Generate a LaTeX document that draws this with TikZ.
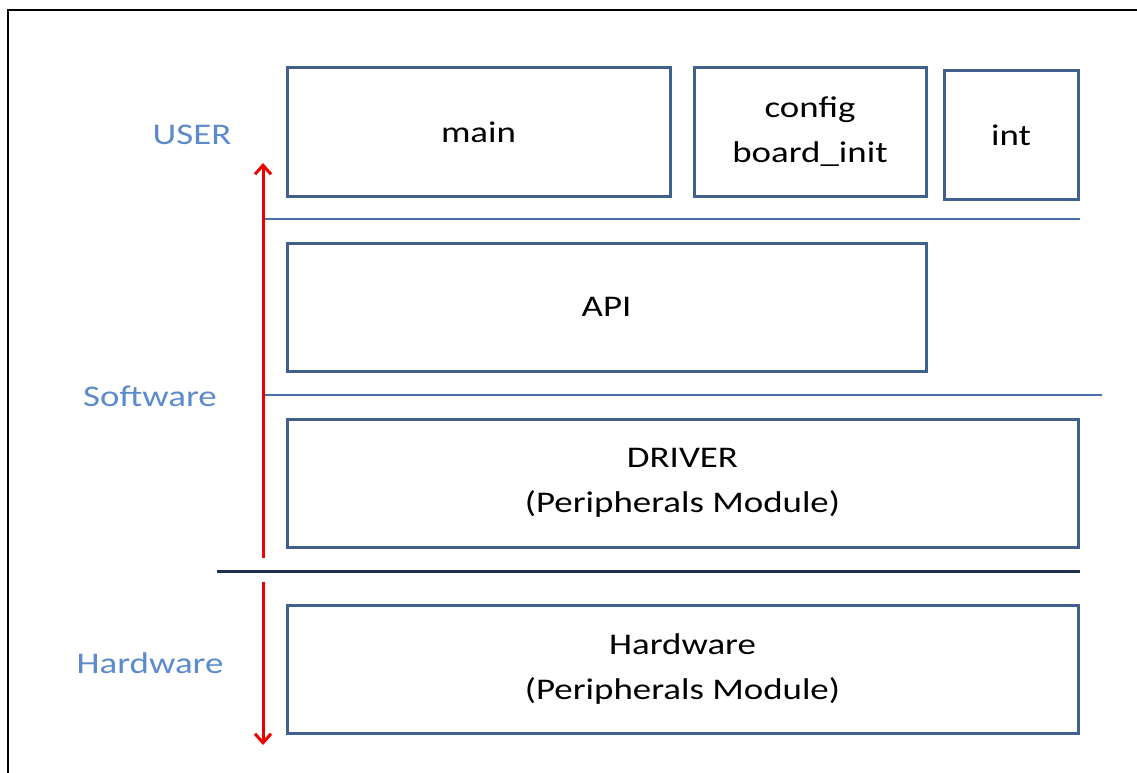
\documentclass[tikz,border=0pt]{standalone}
\usepackage{fontspec}
\setmainfont{Carlito}[FakeStretch=1.23]
\usetikzlibrary{arrows.meta,positioning}
\definecolor{boxblue}{HTML}{41608E}
\definecolor{lineblue}{HTML}{4A72AA}
\definecolor{darkline}{HTML}{1E2E4C}
\definecolor{labelblue}{HTML}{5B8BCB}
\definecolor{arrowred}{HTML}{EE0000}
\tikzset{
        layer/.style = {draw=boxblue, line width=3pt, rectangle,
            minimum height=128pt, align=center,
            font=\fontsize{30}{45}\selectfont},
        levelname/.style = {text=labelblue, font=\fontsize{30}{36}\selectfont},
        septhin/.style = {draw=lineblue, line width=1.2pt},
        septhick/.style = {draw=darkline, line width=3pt},
        flow/.style = {draw=arrowred, line width=3pt,
            -{Straight Barb[length=9pt,width=16pt,line width=3pt]}},
    }

\begin{document}
\begin{tikzpicture}[x=1pt,y=-1pt]
    \useasboundingbox (0,0) rectangle (1137,773);
    % frame
    \draw[line width=1.5pt] (8,773) -- (8,10) -- (1137,10);

    % user layer
    \node[layer, minimum width=383pt] (main) at (478.5,132) {main};
    \node[layer, minimum width=232pt] (config) at (810,132) {config\\board\_init};
    \node[layer, minimum width=134pt] (int) at (1011,135) {int};

    % software layers
    \node[layer, minimum width=639pt] (api) at (606.5,307) {API};
    \node[layer, minimum width=791pt] (driver) at (682.5,483) {DRIVER\\(Peripherals Module)};
    \node[layer, minimum width=791pt] (hw) at (682.5,669) {Hardware\\(Peripherals Module)};

    % separators
    \coordinate (s1a) at (263,219);
    \coordinate (s1b) at (int.east |- s1a);
    \coordinate (s2a) at (263,395);
    \coordinate (s2b) at (1102,395);
    \coordinate (s3a) at (217,571);
    \coordinate (s3b) at (hw.east |- s3a);
    \draw[septhin] (s1a) -- (s1b);
    \draw[septhin] (s2a) -- (s2b);
    \draw[septhick] (s3a) -- (s3b);

    % level names
    \node[levelname] (user) at (192,135) {USER};
    \node[levelname] (sw) at (150,396) {Software};
    \node[levelname] (hwname) at (150,663) {Hardware};

    % arrows
    \coordinate (upstart) at (263,558);
    \coordinate (uptip) at (263,163);
    \coordinate (downstart) at (263,582);
    \coordinate (downtip) at (263,745);
    \draw[flow] (upstart) -- (uptip);
    \draw[flow] (downstart) -- (downtip);
\end{tikzpicture}
\end{document}
